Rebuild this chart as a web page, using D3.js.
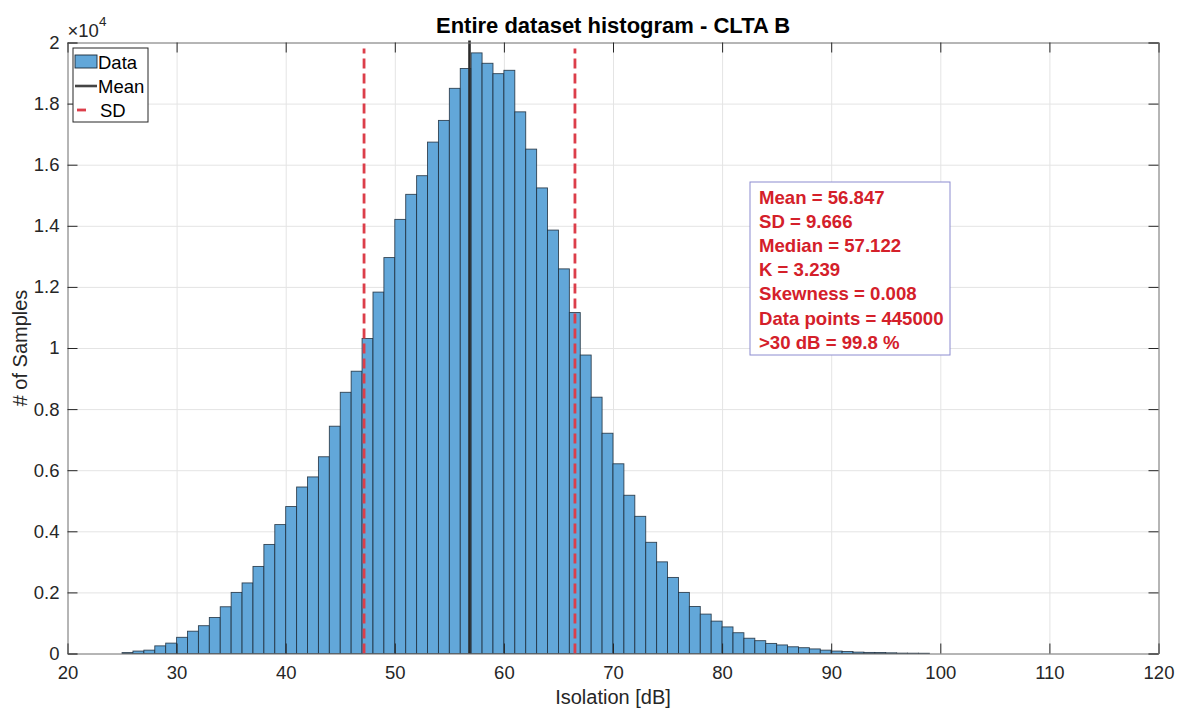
<!DOCTYPE html>
<html>
<head>
<meta charset="utf-8">
<script src="https://cdn.jsdelivr.net/npm/d3@7"></script>
<style>
  body { margin: 0; background: #fff; }
  text { font-family: "Liberation Sans", Arial, sans-serif; }
</style>
</head>
<body>
<div class="chart"></div>
<script>
// histogram bins (left edge, 1 dB wide) and counts
var binEdges = [25, 26, 27, 28, 29, 30, 31, 32, 33, 34, 35, 36, 37, 38, 39, 40, 41, 42, 43, 44,
  45, 46, 47, 48, 49, 50, 51, 52, 53, 54, 55, 56, 57, 58, 59, 60, 61, 62, 63, 64,
  65, 66, 67, 68, 69, 70, 71, 72, 73, 74, 75, 76, 77, 78, 79, 80, 81, 82, 83, 84,
  85, 86, 87, 88, 89, 90, 91, 92, 93, 94, 95, 96, 97, 98, 99];
var counts = [30, 80, 110, 250, 340, 530, 730, 910, 1180, 1530,
  2000, 2310, 2850, 3570, 4220, 4810, 5450, 5780, 6440, 7440,
  8550, 9240, 10310, 11830, 12960, 14210, 15030, 15640, 16740, 17450,
  18500, 19150, 19660, 19320, 18980, 19090, 17730, 16510, 15240, 13860,
  12590, 11160, 9770, 8390, 7210, 6210, 5180, 4490, 3640, 3000,
  2490, 2000, 1540, 1290, 1060, 870, 680, 500, 420, 330,
  280, 220, 190, 150, 110, 80, 65, 45, 35, 33,
  22, 12, 10, 8];

var meanValue = 56.847;
var sdValue = 9.666;

var xTicks = [20, 30, 40, 50, 60, 70, 80, 90, 100, 110, 120];
var yTicks = [0, 2000, 4000, 6000, 8000, 10000, 12000, 14000, 16000, 18000, 20000];
var yTickLabels = ["0", "0.2", "0.4", "0.6", "0.8", "1", "1.2", "1.4", "1.6", "1.8", "2"];

var legendLabels = ["Data", "Mean", "SD"];
var statLines = ["Mean = 56.847", "SD = 9.666", "Median = 57.122", "K = 3.239",
  "Skewness = 0.008", "Data points = 445000", ">30 dB = 99.8 %"];

var svgWidth = 1177;
var svgHeight = 709;

var margin = { top: 42.5, right: 18.5, bottom: 55.5, left: 67.5 };
var width = svgWidth - margin.left - margin.right;
var height = svgHeight - margin.top - margin.bottom;

var barFill = "#62a7d9";
var axisColor = "#262626";

var svg = d3.select(".chart")
  .append("svg")
  .attr("width", svgWidth)
  .attr("height", svgHeight);

var chartGroup = svg.append("g")
  .attr("transform", `translate(${margin.left}, ${margin.top})`);

var bins = counts.map(function(c, i) {
  return { x0: binEdges[i], x1: binEdges[i + 1], count: c };
});

// scales
var xScale = d3.scaleLinear().domain([20, 120]).range([0, width]);
var yScale = d3.scaleLinear().domain([0, 20000]).range([height, 0]);

// grid
chartGroup.append("g")
  .attr("class", "grid")
  .attr("transform", `translate(0, ${height})`)
  .call(d3.axisBottom(xScale).tickValues(xTicks).tickSize(-height).tickFormat(""));
chartGroup.append("g")
  .attr("class", "grid")
  .call(d3.axisLeft(yScale).tickValues(yTicks).tickSize(-width).tickFormat(""));
chartGroup.selectAll(".grid line").attr("stroke", "#e4e4e4").attr("stroke-width", 1);
chartGroup.selectAll(".grid .domain").remove();

// bars
chartGroup.selectAll(".bar")
  .data(bins)
  .enter()
  .append("rect")
  .attr("class", "bar")
  .attr("x", d => xScale(d.x0))
  .attr("y", d => yScale(d.count))
  .attr("width", d => xScale(d.x1) - xScale(d.x0))
  .attr("height", d => height - yScale(d.count))
  .attr("fill", barFill)
  .attr("stroke", "#1b2a38")
  .attr("stroke-opacity", 0.85)
  .attr("stroke-width", 0.9);

// SD lines
chartGroup.selectAll(".sdline")
  .data([meanValue - sdValue, meanValue + sdValue])
  .enter()
  .append("line")
  .attr("class", "sdline")
  .attr("x1", d => xScale(d))
  .attr("x2", d => xScale(d))
  .attr("y1", yScale(0))
  .attr("y2", yScale(20000) + 6)
  .attr("stroke", "#dc3e4a")
  .attr("stroke-width", 2.8)
  .attr("stroke-dasharray", "10,5");

// Mean line
chartGroup.append("line")
  .attr("x1", xScale(meanValue))
  .attr("x2", xScale(meanValue))
  .attr("y1", yScale(0))
  .attr("y2", yScale(20000) - 2)
  .attr("stroke", "#2b2b2b")
  .attr("stroke-width", 2.6);

// axes (ticks inward, box on all four sides)
var bottomAxis = d3.axisBottom(xScale).tickValues(xTicks).tickSize(-10).tickPadding(12);
var topAxis = d3.axisTop(xScale).tickValues(xTicks).tickSize(-10).tickFormat("");
var leftAxis = d3.axisLeft(yScale).tickValues(yTicks).tickSize(-10).tickPadding(8)
  .tickFormat((d, i) => yTickLabels[i]);
var rightAxis = d3.axisRight(yScale).tickValues(yTicks).tickSize(-10).tickFormat("");

chartGroup.append("g").attr("class", "axis")
  .attr("transform", `translate(0, ${height})`).call(bottomAxis);
chartGroup.append("g").attr("class", "axis").call(topAxis);
chartGroup.append("g").attr("class", "axis").call(leftAxis);
chartGroup.append("g").attr("class", "axis")
  .attr("transform", `translate(${width}, 0)`).call(rightAxis);

chartGroup.selectAll(".axis .domain").attr("stroke", "#7a7a7a").attr("stroke-width", 1);
chartGroup.selectAll(".axis line").attr("stroke", axisColor).attr("stroke-width", 1);
chartGroup.selectAll(".axis text")
  .attr("fill", axisColor)
  .style("font-size", "18.5px")
  .style("font-family", '"Liberation Sans", Arial, sans-serif');

// x10^4 exponent label
var expLabel = chartGroup.append("text")
  .attr("x", 0)
  .attr("y", -6)
  .attr("fill", axisColor)
  .style("font-size", "18.5px");
expLabel.append("tspan").text("\u00d710");
expLabel.append("tspan").attr("dy", -11).style("font-size", "13.5px").text("4");

// title
chartGroup.append("text")
  .attr("x", width / 2)
  .attr("y", -10)
  .attr("text-anchor", "middle")
  .style("font-size", "22px")
  .style("font-weight", "bold")
  .attr("fill", "#000")
  .text("Entire dataset histogram - CLTA B");

// axis labels
chartGroup.append("text")
  .attr("x", width / 2)
  .attr("y", height + 50)
  .attr("text-anchor", "middle")
  .attr("fill", axisColor)
  .style("font-size", "20px")
  .text("Isolation [dB]");

chartGroup.append("text")
  .attr("transform", `translate(${27 - margin.left}, ${height / 2}) rotate(-90)`)
  .attr("text-anchor", "middle")
  .attr("fill", axisColor)
  .style("font-size", "20px")
  .text("# of Samples");

// legend
var legend = chartGroup.append("g")
  .attr("transform", "translate(5.5, 5.5)");
legend.append("rect")
  .attr("width", 75)
  .attr("height", 74)
  .attr("fill", "#fff")
  .attr("stroke", axisColor)
  .attr("stroke-width", 1);

legendLabels.forEach(function(label, i) {
  var cy = 14 + i * 24;
  if (i === 0) {
    legend.append("rect")
      .attr("x", 2).attr("y", cy - 7).attr("width", 22).attr("height", 13)
      .attr("fill", barFill).attr("stroke", "#1b2a38").attr("stroke-width", 0.9);
  } else if (i === 1) {
    legend.append("line")
      .attr("x1", 2).attr("x2", 24).attr("y1", cy).attr("y2", cy)
      .attr("stroke", "#444").attr("stroke-width", 2.6);
  } else {
    legend.append("line")
      .attr("x1", 4).attr("x2", 13).attr("y1", cy).attr("y2", cy)
      .attr("stroke", "#dc3e4a").attr("stroke-width", 2.8);
  }
  legend.append("text")
    .attr("x", i === 2 ? 27 : 25)
    .attr("y", cy + 7)
    .attr("fill", "#000")
    .style("font-size", "18.5px")
    .text(label);
});

// statistics box
var statBox = chartGroup.append("g")
  .attr("transform", `translate(${750 - margin.left}, ${182 - margin.top})`);
statBox.append("rect")
  .attr("width", 200)
  .attr("height", 173)
  .attr("fill", "#fff")
  .attr("stroke", "#8c8cd0")
  .attr("stroke-width", 1);
statBox.selectAll("text")
  .data(statLines)
  .enter()
  .append("text")
  .attr("x", 9)
  .attr("y", (d, i) => 21.5 + i * 24.2)
  .attr("fill", "#d4202a")
  .style("font-size", "18.6px")
  .style("font-weight", "bold")
  .text(d => d);
</script>
</body>
</html>
